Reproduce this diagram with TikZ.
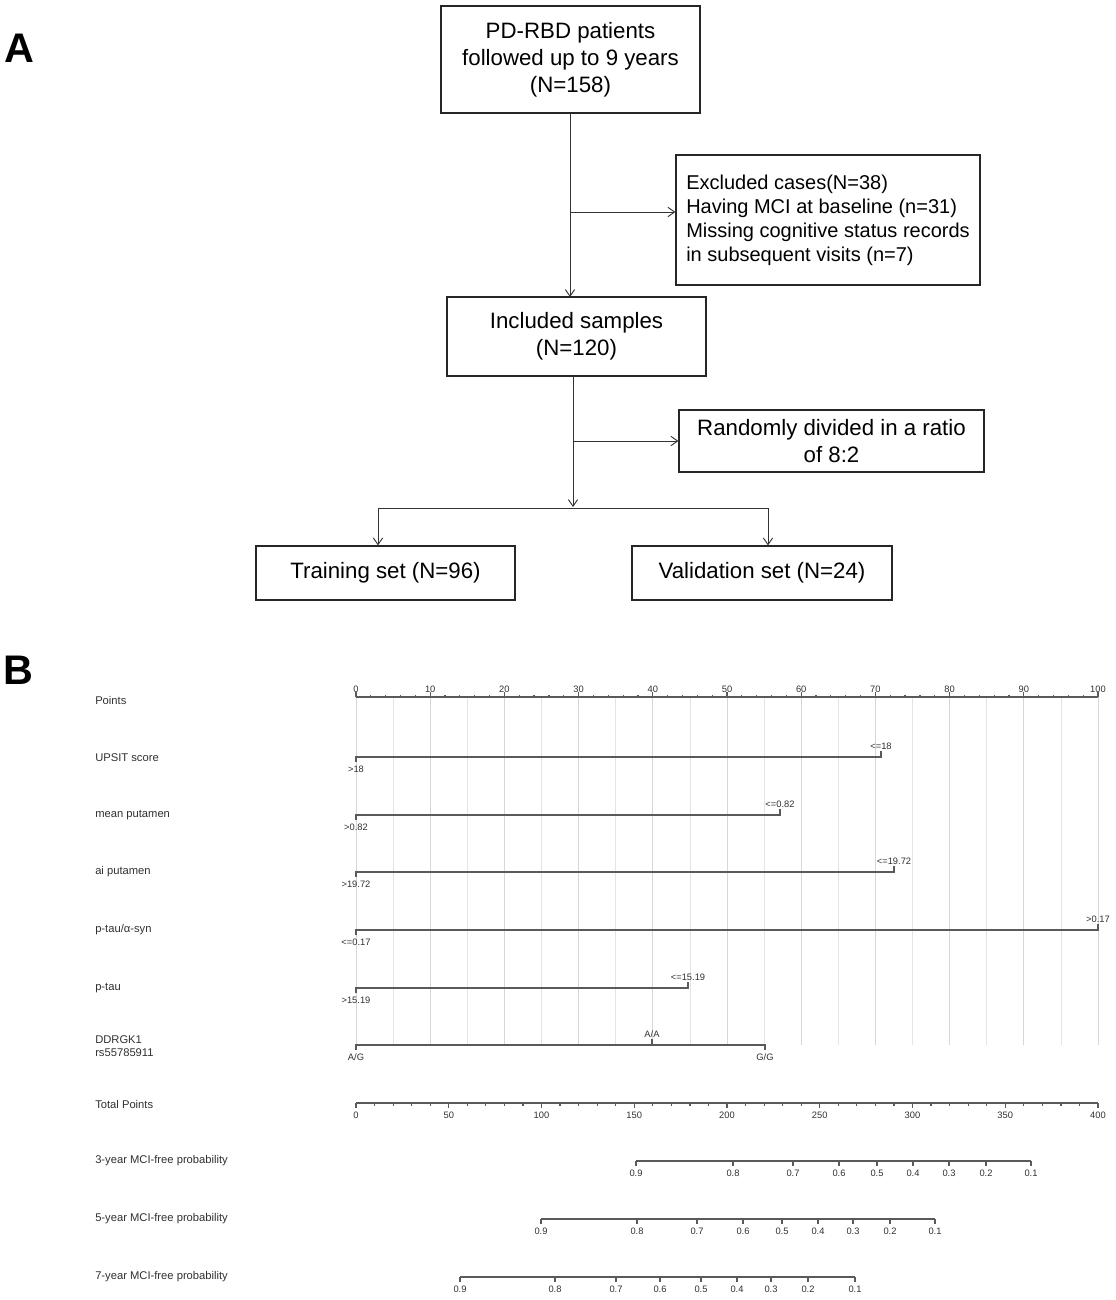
\documentclass[tikz,border=0pt]{standalone}
\usepackage{fontspec}
\setmainfont{Liberation Sans}
\usetikzlibrary{arrows.meta}
\definecolor{axc}{HTML}{5A5A5A}
\definecolor{gridc}{HTML}{E4E4E4}
\definecolor{gridd}{HTML}{D6D6D6}
\definecolor{txc}{HTML}{303030}
\begin{document}
\begin{tikzpicture}[x=0.75pt,y=-0.75pt,
  fbox/.style={draw=black!85,line width=0.9pt,inner sep=0pt,align=center,
    font=\fontsize{16.7}{20.25}\selectfont},
  arr/.style={draw=black!80,line width=0.7pt,-{Straight Barb[length=5pt,width=7pt]}},
  ln/.style={draw=black!80,line width=0.7pt},
  ax/.style={draw=axc,line width=0.9pt},
  gline/.style={draw=gridc,line width=0.6pt},
  gmaj/.style={draw=gridd,line width=0.6pt},
  rowlab/.style={anchor=west,font=\fontsize{8.4}{9.6}\selectfont,text=txc,inner sep=0pt,align=left},
  tk/.style={font=\fontsize{7}{8}\selectfont,text=txc,inner sep=0pt},
  panel/.style={font=\fontsize{31}{36}\selectfont\bfseries,inner sep=0pt}
]
\useasboundingbox (0,0) rectangle (1116,1300);

% ---------------- Panel A ----------------
\node[panel] (lA) at (19,48) {A};

\node[fbox,minimum width=194.25pt,minimum height=80.25pt] (b1) at (570.5,59.5)
  {PD-RBD patients\\followed up to 9 years\\(N=158)};
\node[fbox,minimum width=194.25pt,minimum height=59.25pt] (b2) at (576.5,336.5)
  {Included samples\\(N=120)};
\node[fbox,minimum width=228pt,minimum height=97.5pt,align=left,
  font=\fontsize{15}{18}\selectfont] (ex) at (828,220)
  {Excluded cases(N=38)\\Having MCI at baseline (n=31)\\Missing cognitive status records\\in subsequent visits (n=7)};
\node[fbox,minimum width=228.75pt,minimum height=46.5pt] (rd) at (831.5,441)
  {Randomly divided in a ratio\\of 8:2};
\node[fbox,minimum width=194.25pt,minimum height=40.5pt] (tr) at (385.5,573)
  {Training set (N=96)};
\node[fbox,minimum width=195pt,minimum height=40.5pt] (va) at (762,573)
  {Validation set (N=24)};

\coordinate (t1) at (570,113);
\coordinate (j1) at (570,212);
\coordinate (e1) at (ex.west |- j1);
\coordinate (t2) at (570,297);
\draw[arr] (t1) -- (t2);
\draw[arr] (j1) -- (e1);

\coordinate (s2) at (573,376);
\coordinate (j2) at (573,441);
\coordinate (r1) at (rd.west |- j2);
\coordinate (m2) at (573,507);
\draw[arr] (s2) -- (m2);
\draw[arr] (j2) -- (r1);
\coordinate (hl) at (378,508);
\coordinate (hr) at (768,508);
\draw[ln] (hl) -- (hr);
\draw[arr] (hl) -- (hl |- tr.north);
\draw[arr] (hr) -- (hr |- va.north);

% ---------------- Panel B ----------------
\node[panel] (lB) at (18,670) {B};

% grid
\foreach \p in {5,15,...,95} \draw[gline] ({356+\p*7.42},697) -- ({356+\p*7.42},1045);
\foreach \p in {0,10,...,100} \draw[gmaj] ({356+\p*7.42},697) -- ({356+\p*7.42},1045);

% row labels
\node[rowlab] (lp) at (95,700) {Points};
\node[rowlab] (lu) at (95,758) {UPSIT score};
\node[rowlab] (lm) at (95,815) {mean putamen};
\node[rowlab] (la) at (95,872) {ai putamen};
\node[rowlab] (ls) at (95,930) {p-tau/α-syn};
\node[rowlab] (lt) at (95,988) {p-tau};
\node[rowlab] (ld) at (95,1046) {DDRGK1\\rs55785911};
\node[rowlab] (ltp) at (95,1104) {Total Points};
\node[rowlab] (l3) at (95,1161) {3-year MCI-free probability};
\node[rowlab] (l5) at (95,1219) {5-year MCI-free probability};
\node[rowlab] (l7) at (95,1277) {7-year MCI-free probability};

% Points axis
\draw[ax] (356,697) -- (1098,697);
\foreach \p in {2,4,...,98} \draw[ax] ({356+\p*7.42},697) -- ++(0,-2.5);
\foreach \p in {0,10,...,100} {
  \draw[ax] ({356+\p*7.42},697) -- ++(0,-5);
  \node[tk] at ({356+\p*7.42},689) {\p};
}

% variable rows
\draw[ax] (356,762) -- (356,757) -- (881,757) -- (881,751);
\node[tk] at (356,769) {>18};
\node[tk] at (881,746) {<=18};

\draw[ax] (356,820) -- (356,815) -- (780,815) -- (780,809);
\node[tk] at (356,827) {>0.82};
\node[tk] at (780,804) {<=0.82};

\draw[ax] (356,877) -- (356,872) -- (894,872) -- (894,866);
\node[tk] at (356,884) {>19.72};
\node[tk] at (894,861) {<=19.72};

\draw[ax] (356,935) -- (356,930) -- (1098,930) -- (1098,924);
\node[tk] at (356,942) {<=0.17};
\node[tk] at (1098,919) {>0.17};

\draw[ax] (356,993) -- (356,988) -- (688,988) -- (688,982);
\node[tk] at (356,1000) {>15.19};
\node[tk] at (688,977) {<=15.19};

\draw[ax] (356,1050) -- (356,1045) -- (765,1045) -- (765,1050);
\draw[ax] (652,1045) -- (652,1039);
\node[tk] at (356,1057) {A/G};
\node[tk] at (765,1057) {G/G};
\node[tk] at (652,1034) {A/A};

% Total points
\draw[ax] (356,1103) -- (1098,1103);
\foreach \t in {10,20,...,390} \draw[ax] ({356+\t*1.855},1103) -- ++(0,2.5);
\foreach \t in {0,50,...,400} {
  \draw[ax] ({356+\t*1.855},1103) -- ++(0,5);
  \node[tk] at ({356+\t*1.855},1115) {\t};
}

% probability axes
\draw[ax] (636,1161) -- (1031,1161);
\foreach \x/\l in {636/0.9,733/0.8,793/0.7,839/0.6,877/0.5,913/0.4,949/0.3,986/0.2,1031/0.1} {
  \draw[ax] (\x,1161) -- ++(0,5);
  \node[tk] at (\x,1173) {\l};
}
\draw[ax] (541,1219) -- (935,1219);
\foreach \x/\l in {541/0.9,637/0.8,697/0.7,743/0.6,782/0.5,818/0.4,853/0.3,890/0.2,935/0.1} {
  \draw[ax] (\x,1219) -- ++(0,5);
  \node[tk] at (\x,1231) {\l};
}
\draw[ax] (460,1277) -- (855,1277);
\foreach \x/\l in {460/0.9,555/0.8,616/0.7,660/0.6,701/0.5,737/0.4,771/0.3,808/0.2,855/0.1} {
  \draw[ax] (\x,1277) -- ++(0,5);
  \node[tk] at (\x,1289) {\l};
}
\end{tikzpicture}
\end{document}
